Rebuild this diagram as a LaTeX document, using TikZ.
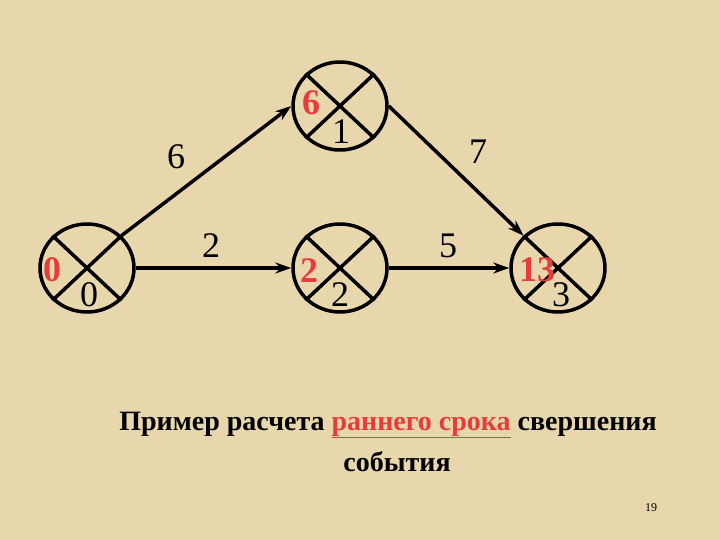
\documentclass[tikz,border=0pt]{standalone}
\usepackage{fontspec}
\setmainfont{Liberation Serif}
\usetikzlibrary{arrows.meta,shapes.geometric}
\definecolor{bg}{RGB}{232,214,172}
\definecolor{rd}{RGB}{230,60,60}
\begin{document}
\begin{tikzpicture}[x=1pt,y=-1pt,
  ev/.style={draw,line width=3.5pt,ellipse,minimum width=94pt,minimum height=88pt,inner sep=0pt},
  cross/.style={line width=3.5pt},
  arr/.style={line width=3.5pt,-{Stealth[length=16pt,width=11pt]}},
  num/.style={font=\fontsize{36}{36}\selectfont},
  rnum/.style={font=\fontsize{36}{36}\selectfont\bfseries,text=rd},
  captext/.style={font=\fontsize{28}{28}\selectfont\bfseries}]
\fill[bg] (0,0) rectangle (720,540);
\foreach \n/\x/\y in {e0/87/268,e1/340/106,e2/340/268,e3/558/268}{
  \node[ev] (\n) at (\x,\y) {};
  \draw[cross] (\n.north west) -- (\n.south east) (\n.north east) -- (\n.south west);
}
\draw[arr] (e0.north east) -- (e1.west);
\draw[arr] (e0.east) -- (e2.west);
\draw[arr] (e2.east) -- (e3.west);
\draw[arr] (e1.east) -- (e3.north west);
\node[rnum] (a0) at (52,270) {0}; \node[num] (b0) at (89,295) {0};
\node[rnum] (a1) at (311,103) {6}; \node[num] (b1) at (341,132) {1};
\node[rnum] (a2) at (309,271) {2}; \node[num] (b2) at (340,295) {2};
\node[rnum] (a3) at (537,270) {13}; \node[num] (b3) at (561,295) {3};
\node[num] (l1) at (176,157) {6};
\node[num] (l2) at (478,152) {7};
\node[num] (l3) at (211,246) {2};
\node[num] (l4) at (448,246) {5};
\node[captext] (t1) at (388,425) {Пример расчета \textcolor{rd}{\underline{раннего срока}} свершения};
\node[captext] (t2) at (397,462) {события};
\node[font=\fontsize{12}{12}\selectfont] (pg) at (651,508) {19};
\end{tikzpicture}
\end{document}
